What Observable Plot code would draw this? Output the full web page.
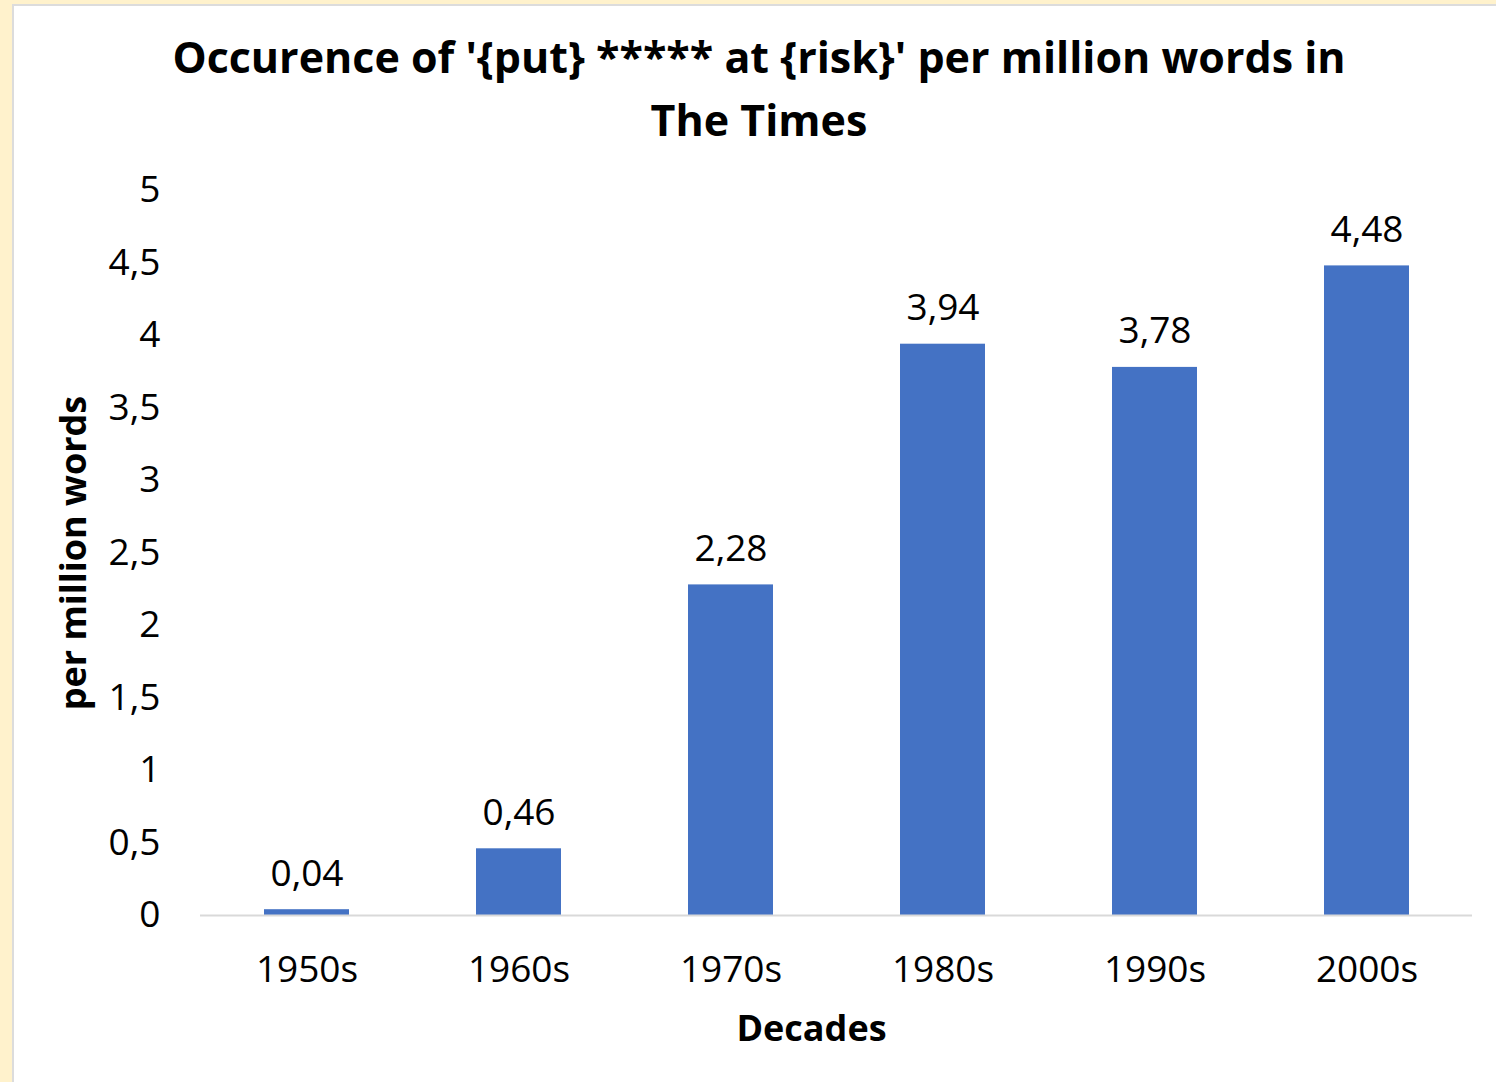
<!DOCTYPE html>
<html><head><meta charset="utf-8">
<script src="https://cdn.jsdelivr.net/npm/d3@7"></script>
<script src="https://cdn.jsdelivr.net/npm/@observablehq/plot@0.6"></script>
<style>
html,body{margin:0;padding:0;background:#FFF2CC;width:1496px;height:1082px;overflow:hidden;}
#panel{position:absolute;left:12px;top:4px;width:1490px;height:1090px;background:#fff;border:2px solid #dcdcdc;box-sizing:border-box;}
#title{position:absolute;left:0;top:19px;width:1490px;text-align:center;font-family:"Open Sans",sans-serif;font-weight:700;font-size:43px;line-height:63px;color:#000;}
#chart{position:absolute;left:-2px;top:154px;}
</style></head>
<body>
<div id="panel">
<div id="title">Occurence of '{put} ***** at {risk}' per million words in<br>The Times</div>
<div id="chart"></div>
</div>
<script>
const decades = ["1950s","1960s","1970s","1980s","1990s","2000s"];
const values = [0.04,0.46,2.28,3.94,3.78,4.48];
const yTicks = [0,0.5,1,1.5,2,2.5,3,3.5,4,4.5,5];
const yLabel = "per million words";
const xLabel = "Decades";
const data = decades.map((d,i)=>({decade:d, value:values[i]}));
const fmt = v => String(v).replace(".", ",");
const chart = Plot.plot({
  width: 1486, height: 924,
  marginTop: 30, marginBottom: 169, marginLeft: 188, marginRight: 26,
  style: {fontFamily: "'Open Sans', sans-serif", fontSize: "37px", color: "#000", background: "transparent"},
  x: {domain: decades, paddingInner: 0.6, paddingOuter: 0.3, label: null},
  y: {domain: [0,5], ticks: yTicks, label: null},
  marks: [
    Plot.axisY({ticks: yTicks, tickSize: 0, tickPadding: 40, tickFormat: fmt, fontSize: 37}),
    Plot.axisX({tickSize: 0, tickPadding: 40, fontSize: 37}),
    Plot.barY(data, {x: "decade", y: "value", fill: "#4472C4"}),
    Plot.ruleY([0], {stroke: "#d9d9d9", strokeWidth: 2}),
    Plot.text(data, {x: "decade", y: "value", text: d => fmt(d.value), dy: -36, fontSize: 37}),
    Plot.text([yLabel], {frameAnchor: "left", textAnchor: "middle", rotate: -90, dx: -126, fontWeight: "bold", fontSize: 36}),
    Plot.text([xLabel], {frameAnchor: "bottom", textAnchor: "middle", dx: -25, dy: 125, fontWeight: "bold", fontSize: 36})
  ]
});
document.getElementById("chart").appendChild(chart);
</script>
</body></html>
